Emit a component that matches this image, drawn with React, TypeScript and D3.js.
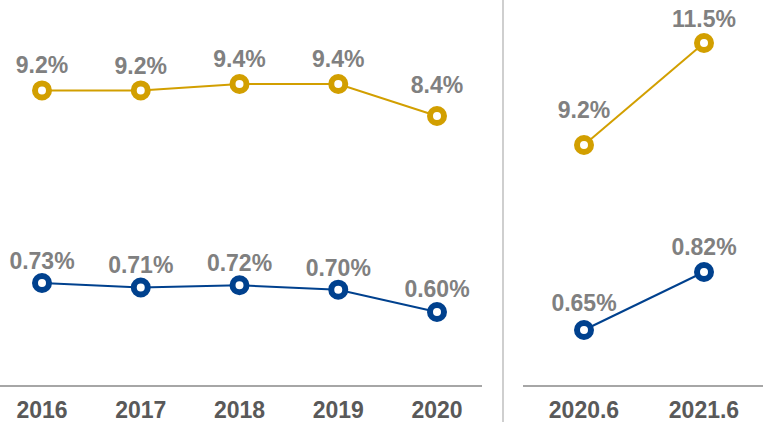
import React from 'react';
import * as d3 from 'd3';

// annual panel
const years = ['2016', '2017', '2018', '2019', '2020'];
const goldAnnual = [9.2, 9.2, 9.4, 9.4, 8.4];
const blueAnnual = [0.73, 0.71, 0.72, 0.7, 0.6];

// half-year panel
const halves = ['2020.6', '2021.6'];
const goldHalf = [9.2, 11.5];
const blueHalf = [0.65, 0.82];

const W = 763;
const H = 422;
const GOLD = '#D29F00';
const BLUE = '#00418E';
const LABEL = '#808080';
const TICK = '#595959';
const AXIS = '#A6A6A6';
const FONT = '"Liberation Sans", Arial, sans-serif';
const baseY = 386;

type Series = {
  values: number[];
  decimals: number;
  color: string;
  y: d3.ScaleLinear<number, number>;
  lift: number[];
};

type Panel = {
  cats: string[];
  x: d3.ScalePoint<string>;
  axis: [number, number];
  series: Series[];
};

const panels: Panel[] = [
  {
    cats: years,
    x: d3.scalePoint<string>().domain(years).range([42, 437]),
    axis: [0, 482],
    series: [
      {
        values: goldAnnual,
        decimals: 1,
        color: GOLD,
        y: d3.scaleLinear().domain([8.4, 9.4]).range([116, 84]),
        lift: [17, 16, 17, 17, 23],
      },
      {
        values: blueAnnual,
        decimals: 2,
        color: BLUE,
        y: d3.scaleLinear().domain([0.6, 0.73]).range([312, 283]),
        lift: [14, 14, 14, 14, 15],
      },
    ],
  },
  {
    cats: halves,
    x: d3.scalePoint<string>().domain(halves).range([584, 704]),
    axis: [523, 763],
    series: [
      {
        values: goldHalf,
        decimals: 1,
        color: GOLD,
        y: d3.scaleLinear().domain([9.2, 11.5]).range([145, 43]),
        lift: [27, 16],
      },
      {
        values: blueHalf,
        decimals: 2,
        color: BLUE,
        y: d3.scaleLinear().domain([0.65, 0.82]).range([330, 272]),
        lift: [19, 17],
      },
    ],
  },
];

export default function App() {
  return (
    <svg
      width={W}
      height={H}
      style={{ position: 'absolute', left: 0, top: 0, background: '#fff' }}
      fontFamily={FONT}
    >
      <line x1={503} x2={503} y1={0} y2={H} stroke="#BFBFBF" strokeWidth={1.5} />
      {panels.map((p, pi) => (
        <g key={pi}>
          <line x1={p.axis[0]} x2={p.axis[1]} y1={baseY} y2={baseY} stroke={AXIS} strokeWidth={2} />
          {p.cats.map((c) => (
            <text
              key={c}
              x={p.x(c)}
              y={418}
              textAnchor="middle"
              fontSize={23}
              fontWeight="bold"
              fill={TICK}
            >
              {c}
            </text>
          ))}
          {p.series.map((s, si) => {
            const line = d3
              .line<number>()
              .x((_, i) => p.x(p.cats[i]) as number)
              .y((v) => s.y(v));
            return (
              <g key={si}>
                <path d={line(s.values) || ''} fill="none" stroke={s.color} strokeWidth={2} />
                {s.values.map((v, i) => {
                  const cx = p.x(p.cats[i]) as number;
                  const cy = s.y(v);
                  return (
                    <g key={i}>
                      <circle cx={cx} cy={cy} r={7} fill="#fff" stroke={s.color} strokeWidth={6} />
                      <text
                        x={cx}
                        y={cy - s.lift[i]}
                        textAnchor="middle"
                        fontSize={23}
                        fontWeight="bold"
                        fill={LABEL}
                      >
                        {v.toFixed(s.decimals)}%
                      </text>
                    </g>
                  );
                })}
              </g>
            );
          })}
        </g>
      ))}
    </svg>
  );
}
